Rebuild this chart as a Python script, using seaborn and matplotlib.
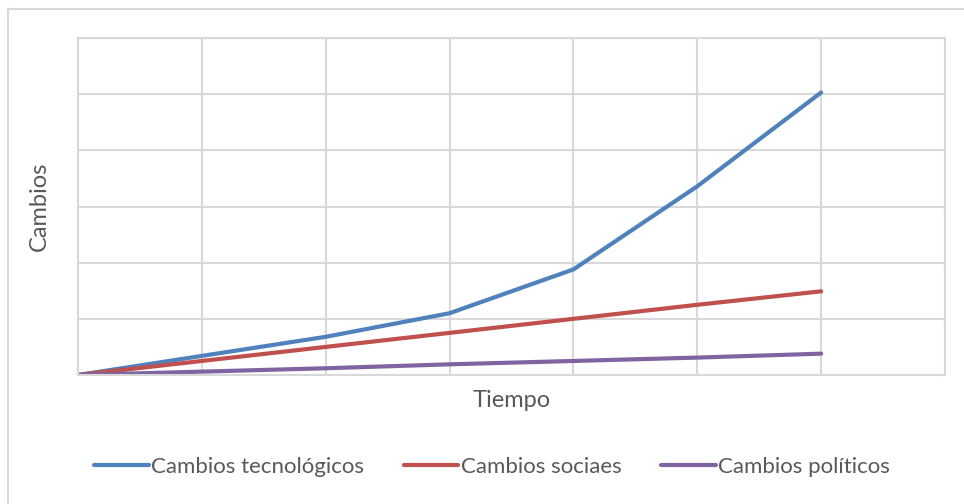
import numpy as np
import pandas as pd
import matplotlib.pyplot as plt
import seaborn as sns
from matplotlib.lines import Line2D

# Data (units = gridline steps)
tiempo = [0, 1, 2, 3, 4, 5, 6]
tecnologicos = [0, 0.34, 0.68, 1.10, 1.88, 3.36, 5.03]
sociales = [0, 0.25, 0.50, 0.75, 1.00, 1.25, 1.49]
politicos = [0, 0.06, 0.12, 0.19, 0.25, 0.31, 0.38]
series_names = ["Cambios tecnológicos", "Cambios sociaes", "Cambios políticos"]
colors = ["#4F81BD", "#C0504D", "#8064A2"]

df = pd.DataFrame({
    "Tiempo": tiempo * 3,
    "Cambios": tecnologicos + sociales + politicos,
    "Serie": [series_names[0]] * 7 + [series_names[1]] * 7 + [series_names[2]] * 7,
})

sns.set_style("white")
plt.rcParams['font.family'] = ['Lato', 'DejaVu Sans']
text_color = "#595959"
grid_color = "#D9D9D9"

fig = plt.figure(figsize=(9.64, 5.04), dpi=100)
ax = fig.add_axes([78 / 964, 1 - 375 / 504, (945 - 78) / 964, (375 - 38) / 504])

sns.lineplot(data=df, x="Tiempo", y="Cambios", hue="Serie", palette=colors,
             linewidth=3, legend=False, ax=ax)

ax.set_xlim(0, 7)
ax.set_ylim(0, 6)
ax.set_xticks(range(0, 8))
ax.set_yticks(range(0, 7))
ax.set_xticklabels([])
ax.set_yticklabels([])
ax.tick_params(length=0)
ax.grid(True, color=grid_color, linewidth=1.5)
ax.set_axisbelow(True)
for side in ax.spines.values():
    side.set_color(grid_color)
    side.set_linewidth(1.5)

ax.set_xlabel("Tiempo", fontsize=17, color=text_color, labelpad=7)
ax.set_ylabel("Cambios", fontsize=17, color=text_color, labelpad=17)

handles = [Line2D([0], [0], color=c, linewidth=3) for c in colors]
fig.legend(handles, series_names, loc="center", bbox_to_anchor=(492 / 964, 1 - 467 / 504),
           ncol=3, frameon=False, fontsize=16, labelcolor=text_color,
           handlelength=2.45, handletextpad=0.1, columnspacing=1.8)

# chart border (only top and left edges are visible in the crop)
fig.add_artist(Line2D([8 / 964, 8 / 964], [0, 1 - 9 / 504], color=grid_color, linewidth=1.5))
fig.add_artist(Line2D([8 / 964, 1], [1 - 9 / 504, 1 - 9 / 504], color=grid_color, linewidth=1.5))

fig.savefig("out.png", dpi=100, facecolor="white")
